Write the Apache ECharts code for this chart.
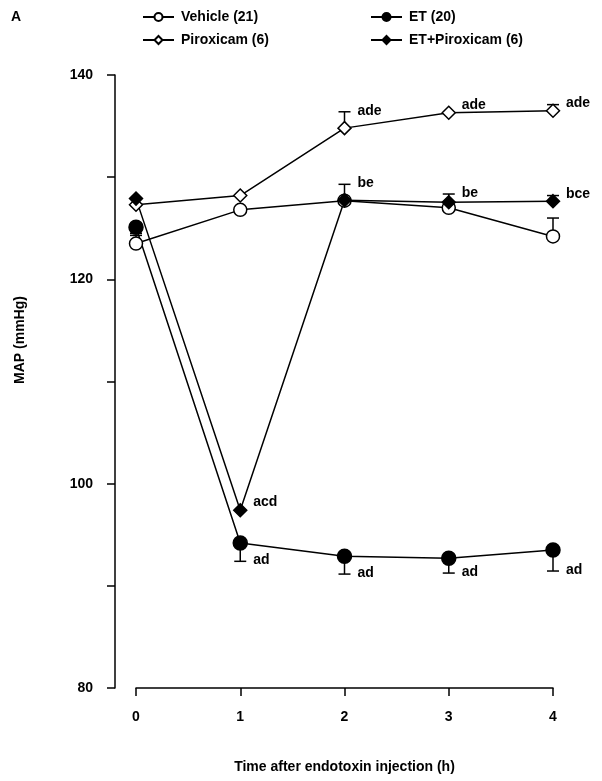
<!DOCTYPE html>
<html>
<head>
<meta charset="utf-8">
<script src="https://cdn.jsdelivr.net/npm/echarts@6/dist/echarts.min.js"></script>
<style>
  html, body { margin: 0; padding: 0; background: #fff; }
  #chart { width: 602px; height: 781px; }
</style>
</head>
<body>
<div id="chart"></div>
<script>
// time points (h)
var hours = [0, 1, 2, 3, 4];
var yTicks = [80, 100, 120, 140];

// MAP values (mmHg)
var vehicle = [123.5, 126.8, 127.7, 127.0, 124.2];
var et = [125.1, 94.2, 92.9, 92.7, 93.5];
var pirox = [127.3, 128.2, 134.8, 136.3, 136.5];
var etPirox = [127.9, 97.4, 127.75, 127.55, 127.65];

// SEM (one-sided bars)
var vehicleErr = [0.8, 0, 0, 0, 1.8];
var etErr = [0.6, 1.8, 1.75, 1.45, 2.05];
var piroxErr = [0, 0, 1.6, 0, 0.6];
var etPiroxErr = [0, 0, 1.55, 0.8, 0.55];

// significance letters
var etLabels = ["", "ad", "ad", "ad", "ad"];
var piroxLabels = ["", "", "ade", "ade", "ade"];
var etPiroxLabels = ["", "acd", "be", "be", "bce"];
var vehicleLabels = ["", "", "", "", ""];

var FONT = "Liberation Sans";

function pairs(vals) {
  return hours.map(function (h, i) { return [h, vals[i]]; });
}

function lineSeries(name, vals, symbol, filled, size) {
  return {
    name: name,
    type: "line",
    xAxisIndex: 1,
    yAxisIndex: 1,
    data: pairs(vals),
    symbol: symbol,
    symbolSize: size,
    lineStyle: { color: "#000", width: 1.5 },
    itemStyle: { color: filled ? "#000" : "#fff", borderColor: "#000", borderWidth: 1.5 },
    emphasis: { disabled: true },
    z: 3
  };
}

// error bars + letters, dir 1 = up, -1 = down
function errSeries(vals, errs, labels, dir) {
  return {
    type: "custom",
    xAxisIndex: 1,
    yAxisIndex: 1,
    data: hours.map(function (h, i) { return [h, vals[i], errs[i]]; }),
    renderItem: function (params, api) {
      var i = params.dataIndex;
      var x = api.value(0), v = api.value(1), e = api.value(2);
      var p0 = api.coord([x, v]);
      var p1 = api.coord([x, v + dir * e]);
      var children = [];
      if (e > 0) {
        children.push({
          type: "line",
          shape: { x1: p0[0], y1: p0[1], x2: p1[0], y2: p1[1] },
          style: { stroke: "#000", lineWidth: 1.5 }
        });
        children.push({
          type: "line",
          shape: { x1: p1[0] - 6, y1: p1[1], x2: p1[0] + 6, y2: p1[1] },
          style: { stroke: "#000", lineWidth: 1.5 }
        });
      }
      if (labels[i]) {
        children.push({
          type: "text",
          style: {
            text: labels[i],
            x: p1[0] + 13,
            y: e > 0 ? p1[1] - 1 : p0[1] - 8,
            verticalAlign: "middle",
            font: "bold 14px " + FONT,
            fill: "#000"
          }
        });
      }
      return { type: "group", children: children };
    },
    z: 2
  };
}

var chart = echarts.init(document.getElementById("chart"));

var txt = { fontFamily: FONT, fontSize: 14, fontWeight: "bold", color: "#000" };
var legendText = { fontFamily: FONT, fontSize: 14, fontWeight: "bold", color: "#000", lineHeight: 16, padding: [0, 0, 0, 2] };

chart.setOption({
  animation: false,
  textStyle: { fontFamily: FONT },
  title: {
    text: "A",
    left: 6,
    top: 5,
    textStyle: txt
  },
  // y axis title sits a bit above the axis centre in the original
  graphic: [
    {
      type: "text",
      x: 20,
      y: 340,
      rotation: Math.PI / 2,
      style: {
        text: "MAP (mmHg)",
        align: "center",
        verticalAlign: "middle",
        font: "bold 14px " + FONT,
        fill: "#000"
      }
    }
  ],
  legend: [
    {
      data: ["Vehicle (21)", "Piroxicam (6)"],
      orient: "vertical",
      left: 137,
      top: 4,
      itemWidth: 31,
      itemHeight: 10,
      itemGap: 7,
      selectedMode: false,
      textStyle: legendText
    },
    {
      data: ["ET (20)", "ET+Piroxicam (6)"],
      orient: "vertical",
      left: 365,
      top: 4,
      itemWidth: 31,
      itemHeight: 10,
      itemGap: 7,
      selectedMode: false,
      textStyle: legendText
    }
  ],
  grid: [
    { left: 115, right: 49, top: 75, bottom: 93 },
    { left: 136, right: 49, top: 75, bottom: 93 }
  ],
  xAxis: [
    { gridIndex: 0, type: "value", min: 0, max: 1, show: false },
    {
      gridIndex: 1,
      type: "value",
      min: 0,
      max: 4,
      interval: 1,
      name: "Time after endotoxin injection (h)",
      nameLocation: "middle",
      nameGap: 72,
      nameTextStyle: txt,
      axisLine: { lineStyle: { color: "#000", width: 1.5 } },
      axisTick: { length: 8, lineStyle: { color: "#000", width: 1.5 } },
      axisLabel: Object.assign({ margin: 22 }, txt),
      splitLine: { show: false }
    }
  ],
  yAxis: [
    {
      gridIndex: 0,
      type: "value",
      min: 80,
      max: 140,
      interval: 10,
      axisLine: { show: true, lineStyle: { color: "#000", width: 1.5 } },
      axisTick: { show: true, length: 8, lineStyle: { color: "#000", width: 1.5 } },
      axisLabel: Object.assign({
        margin: 22,
        formatter: function (v) { return yTicks.indexOf(v) > -1 ? String(v) : ""; }
      }, txt),
      splitLine: { show: false }
    },
    { gridIndex: 1, type: "value", min: 80, max: 140, show: false }
  ],
  series: [
    errSeries(vehicle, vehicleErr, vehicleLabels, 1),
    errSeries(et, etErr, etLabels, -1),
    errSeries(pirox, piroxErr, piroxLabels, 1),
    errSeries(etPirox, etPiroxErr, etPiroxLabels, 1),
    lineSeries("Vehicle (21)", vehicle, "circle", false, 13),
    lineSeries("ET (20)", et, "circle", true, 14),
    lineSeries("Piroxicam (6)", pirox, "diamond", false, 13),
    lineSeries("ET+Piroxicam (6)", etPirox, "diamond", true, 13)
  ]
});
</script>
</body>
</html>
